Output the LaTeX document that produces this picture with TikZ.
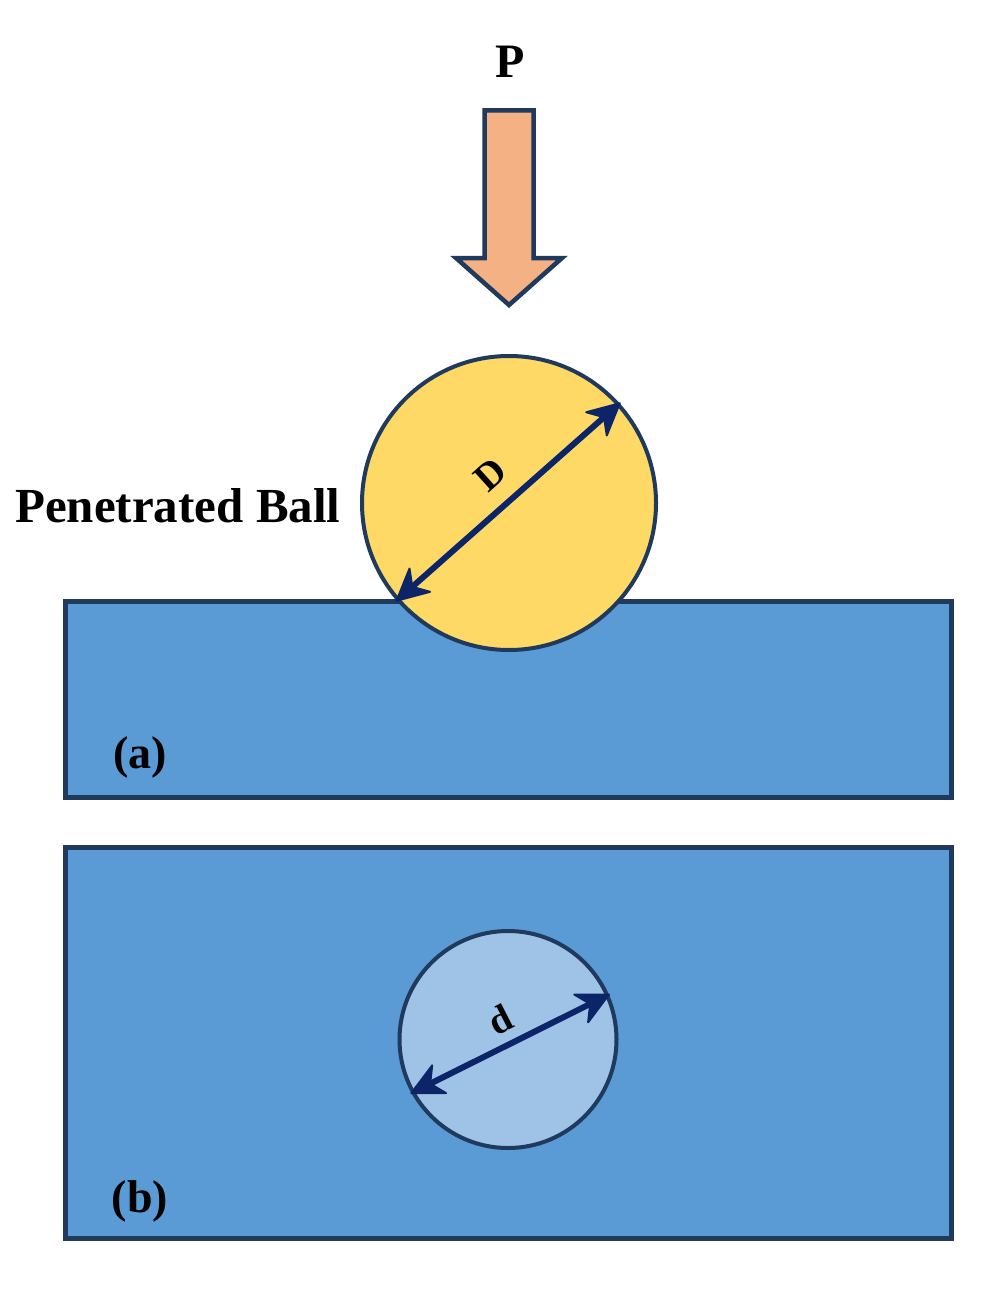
\documentclass[tikz,border=0pt]{standalone}
\usepackage{fontspec}
\setmainfont{Liberation Serif}
\usetikzlibrary{calc}
\definecolor{edge}{HTML}{1F3A5C}
\definecolor{plate}{HTML}{5B9BD5}
\definecolor{ballfill}{HTML}{FED966}
\definecolor{dentfill}{HTML}{9FC3E6}
\definecolor{loadfill}{HTML}{F4B183}
\definecolor{dimline}{HTML}{0C2468}
\tikzset{
  platebox/.style={draw=edge, fill=plate, line width=5pt, rectangle, inner sep=0pt},
  ballnode/.style={draw=edge, fill=ballfill, line width=4pt, circle, inner sep=0pt},
  dentnode/.style={draw=edge, fill=dentfill, line width=4pt, circle, inner sep=0pt},
  dimshaft/.style={draw=dimline, line width=6pt},
  dimhead/.style={fill=dimline, draw=dimline, line width=2pt, line join=round},
  lbl/.style={inner sep=0pt},
}
% filled arrowhead with its tip at #1, pointing away from #2
\newcommand{\headat}[2]{%
  \filldraw[dimhead] (#1) -- ($(#1)!31pt!(#2)!15.5pt!90:(#1)$) -- ($(#1)!21pt!(#2)$) -- ($(#1)!31pt!(#2)!15.5pt!-90:(#1)$) -- cycle;}
\begin{document}
\begin{tikzpicture}[x=1pt,y=-1pt]
\useasboundingbox (0,0) rectangle (988,1289);
% load arrow
\draw[draw=edge, fill=loadfill, line width=4.5pt, line join=miter]
  (484.5,110.5) -- (533.5,110.5) -- (533.5,258) -- (562,258) -- (509,305) -- (456,258) -- (484.5,258) -- cycle;
\node[lbl, font=\bfseries\fontsize{48}{50}\selectfont] (P) at (510,62) {P};
% plate (a)
\node[platebox, minimum width=885.5pt, minimum height=196pt] (plateA) at (508.25,699) {};
\node[ballnode, minimum size=294pt] (ball) at (509,503) {};
\coordinate (Dlo) at (ball.221.6);
\coordinate (Dhi) at (ball.42.5);
\draw[dimshaft] ($(Dlo)!20pt!(Dhi)$) -- ($(Dhi)!20pt!(Dlo)$);
\headat{Dlo}{Dhi}
\headat{Dhi}{Dlo}
\node[lbl, font=\bfseries\fontsize{39}{41}\selectfont, rotate=42] (Dlab) at (490,475) {D};
\node[lbl, font=\bfseries\fontsize{49}{51}\selectfont, anchor=base west] (pball) at (15,522) {Penetrated Ball};
\node[lbl, font=\bfseries\fontsize{46}{48}\selectfont] (la) at (140,757) {(a)};
% plate (b)
\node[platebox, minimum width=885.5pt, minimum height=391pt] (plateB) at (508.25,1042.5) {};
\node[dentnode, minimum size=217pt] (dent) at (508,1039.5) {};
\coordinate (dlo) at (dent.209);
\coordinate (dhi) at (dent.24);
\draw[dimshaft] ($(dlo)!20pt!(dhi)$) -- ($(dhi)!20pt!(dlo)$);
\headat{dlo}{dhi}
\headat{dhi}{dlo}
\node[lbl, font=\bfseries\fontsize{39}{41}\selectfont, rotate=27] (dlab) at (500,1020) {d};
\node[lbl, font=\bfseries\fontsize{46}{48}\selectfont] (lb) at (140,1201) {(b)};
\end{tikzpicture}
\end{document}
